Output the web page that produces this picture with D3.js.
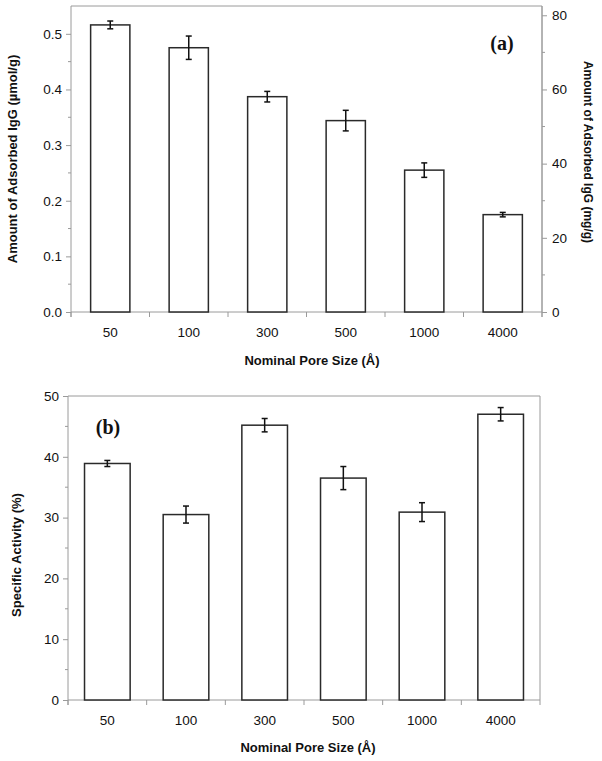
<!DOCTYPE html>
<html><head><meta charset="utf-8">
<script src="https://cdn.jsdelivr.net/npm/d3@7"></script>
<style>
body{margin:0;background:#fff;}
svg{display:block;font-family:Arial,"Liberation Sans",sans-serif;}
</style></head>
<body>
<svg id="chart" width="602" height="761"></svg>
<script>
const categories = ["50","100","300","500","1000","4000"];
const adsorbed = [0.516, 0.475, 0.387, 0.344, 0.255, 0.175];
const adsorbedErr = [0.007, 0.021, 0.0095, 0.0185, 0.013, 0.004];
const activity = [38.9, 30.5, 45.2, 36.5, 30.9, 47.0];
const activityErr = [0.5, 1.4, 1.1, 1.9, 1.55, 1.1];
const leftTicksA = [0, 0.1, 0.2, 0.3, 0.4, 0.5];
const rightTicksA = [0, 20, 40, 60, 80];
const leftTicksB = [0, 10, 20, 30, 40, 50];

const svg = d3.select("#chart");
const axisCol = "#9a9a9a";
const barCol = "#2a2a2a";

function panel(o) {
  const g = svg.append("g");
  const x = d3.scaleBand().domain(categories).range([o.x0, o.x1]).paddingInner(o.pad).paddingOuter(o.pad/2);
  const y = d3.scaleLinear().domain(o.yDomain).range([o.yb, o.yt]);
  g.append("line").attr("x1", o.x0).attr("x2", o.x1).attr("y1", o.yt).attr("y2", o.yt).attr("stroke", axisCol).attr("stroke-width", 1);
  if (o.rightFrame) g.append("line").attr("x1", o.x1).attr("x2", o.x1).attr("y1", o.yt).attr("y2", o.yb).attr("stroke", axisCol);
  const la = d3.axisLeft(y).tickValues(o.leftTicks).tickFormat(o.leftFmt).tickSize(5).tickPadding(4);
  const lg = g.append("g").attr("transform", `translate(${o.x0},0)`).call(la);
  lg.select(".domain").attr("stroke", axisCol).attr("d", `M0,${o.yt}V${o.yb+5}`);
  lg.selectAll(".tick line").attr("stroke", axisCol);
  lg.selectAll(".tick text").attr("font-size", 13.5).attr("fill", "#111").attr("font-family", "Arial, 'Liberation Sans', sans-serif");
  g.append("g").selectAll("line").data(o.leftMinor).join("line")
    .attr("x1", o.x0 - 3).attr("x2", o.x0).attr("y1", d => y(d)).attr("y2", d => y(d)).attr("stroke", axisCol);
  if (o.right) {
    const yr = d3.scaleLinear().domain(o.right.domain).range([o.yb, o.yt]);
    const ra = d3.axisRight(yr).tickValues(o.right.ticks).tickSize(5).tickPadding(5);
    const rg = g.append("g").attr("transform", `translate(${o.x1},0)`).call(ra);
    rg.select(".domain").attr("stroke", axisCol).attr("d", `M0,${o.yt}V${o.yb+5}`);
    rg.selectAll(".tick line").attr("stroke", axisCol);
    rg.selectAll(".tick text").attr("font-size", 13.5).attr("fill", "#111").attr("font-family", "Arial, 'Liberation Sans', sans-serif");
    g.append("g").selectAll("line").data(o.right.minor).join("line")
      .attr("x1", o.x1).attr("x2", o.x1 + 3).attr("y1", d => yr(d)).attr("y2", d => yr(d)).attr("stroke", axisCol);
    g.append("text").attr("transform", `translate(${o.right.titleX},${o.right.titleY}) rotate(90)`)
      .attr("text-anchor", "middle").attr("dominant-baseline", "central")
      .attr("font-size", 12).attr("font-weight", "bold").attr("fill", "#111").text(o.right.title);
  }
  const bounds = d3.range(categories.length + 1).map(i => o.x0 + i * (o.x1 - o.x0) / categories.length);
  g.append("line").attr("x1", o.x0).attr("x2", o.x1).attr("y1", o.yb).attr("y2", o.yb).attr("stroke", axisCol);
  g.append("g").selectAll("line").data(bounds).join("line")
    .attr("x1", d => d).attr("x2", d => d).attr("y1", o.yb).attr("y2", o.yb + 5).attr("stroke", axisCol);
  g.append("g").selectAll("text").data(categories).join("text")
    .attr("x", d => x(d) + x.bandwidth()/2).attr("y", o.yb + 25)
    .attr("text-anchor", "middle").attr("font-size", 13.5).attr("fill", "#111").text(d => d);
  g.append("g").selectAll("rect").data(o.values).join("rect")
    .attr("x", (d, i) => x(categories[i])).attr("width", x.bandwidth())
    .attr("y", d => y(d)).attr("height", d => o.yb - y(d))
    .attr("fill", "#fff").attr("stroke", barCol).attr("stroke-width", 1.5);
  const eg = g.append("g").attr("stroke", "#111").attr("stroke-width", 1.5);
  o.values.forEach((v, i) => {
    const cx = x(categories[i]) + x.bandwidth()/2;
    const e = o.errors[i];
    eg.append("line").attr("x1", cx).attr("x2", cx).attr("y1", y(v + e)).attr("y2", y(v - e));
    eg.append("line").attr("x1", cx - 3).attr("x2", cx + 3).attr("y1", y(v + e)).attr("y2", y(v + e));
    eg.append("line").attr("x1", cx - 3).attr("x2", cx + 3).attr("y1", y(v - e)).attr("y2", y(v - e));
  });
  g.append("text").attr("transform", `translate(${o.ltitleX},${o.ltitleY}) rotate(-90)`)
    .attr("text-anchor", "middle").attr("dominant-baseline", "central")
    .attr("font-size", 13).attr("font-weight", "bold").attr("fill", "#111").text(o.ltitle);
  g.append("text").attr("x", o.xtitleX).attr("y", o.xtitleY).attr("text-anchor", "middle")
    .attr("font-size", 13).attr("font-weight", "bold").attr("fill", "#111").text("Nominal Pore Size (Å)");
  g.append("text").attr("x", o.labX).attr("y", o.labY).attr("text-anchor", "middle")
    .attr("font-family", "'Liberation Serif','Times New Roman',serif").attr("font-weight", "bold")
    .attr("font-size", 20).attr("fill", "#111").text(o.label);
}

panel({
  x0: 71, x1: 542, yt: 6, yb: 312, pad: 0.5,
  yDomain: [0, 0.55], leftTicks: leftTicksA, leftFmt: d3.format(".1f"),
  leftMinor: [0.05, 0.15, 0.25, 0.35, 0.45],
  values: adsorbed, errors: adsorbedErr,
  right: { domain: [0, 82.5], ticks: rightTicksA, minor: [10, 30, 50, 70],
           title: "Amount of Adsorbed IgG (mg/g)", titleX: 588, titleY: 152 },
  ltitle: "Amount of Adsorbed IgG (µmol/g)", ltitleX: 12.5, ltitleY: 159,
  xtitleX: 312, xtitleY: 365, label: "(a)", labX: 502, labY: 50, rightFrame: true
});

panel({
  x0: 68, x1: 540, yt: 396, yb: 700, pad: 0.42,
  yDomain: [0, 50], leftTicks: leftTicksB, leftFmt: d3.format("d"),
  leftMinor: [5, 15, 25, 35, 45],
  values: activity, errors: activityErr,
  ltitle: "Specific Activity (%)", ltitleX: 16.5, ltitleY: 555,
  xtitleX: 308, xtitleY: 752, label: "(b)", labX: 108, labY: 434, rightFrame: true
});
</script>
</body></html>
